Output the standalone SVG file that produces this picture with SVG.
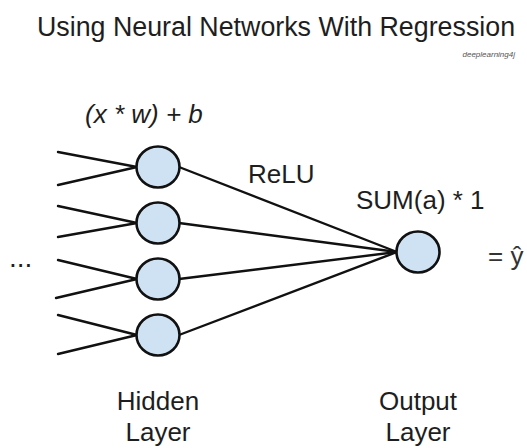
<svg xmlns="http://www.w3.org/2000/svg" width="527" height="448" viewBox="0 0 527 448">
  <style>
    .t { font-family: "Liberation Sans", Arial, sans-serif; fill: #1e1e1e; }
    .big { font-size: 26px; }
    .it { font-style: italic; }
    .node { fill: #cfe2f3; stroke: #111; stroke-width: 2.6; }
    .edge { stroke: #111; stroke-width: 2.4; fill: none; stroke-linecap: round; }
  </style>
  <rect width="527" height="448" fill="#ffffff"/>

  <!-- heading -->
  <text class="t" x="37" y="36" font-size="26.8">Using Neural Networks With Regression</text>
  <text class="t it" x="515" y="57" font-size="8" fill="#555" text-anchor="end" style="fill:#555">deeplearning4j</text>

  <!-- labels -->
  <text class="t big it" x="85" y="123">(x * w) + b</text>
  <text class="t big" x="248" y="183">ReLU</text>
  <text class="t big" x="356" y="209">SUM(a) * 1</text>
  <text class="t" x="9" y="267" font-size="28">...</text>
  <text class="t big" x="488" y="265" style="fill:#333">= ŷ</text>
  <text class="t big" x="158" y="410" text-anchor="middle">Hidden</text>
  <text class="t big" x="158" y="441" text-anchor="middle">Layer</text>
  <text class="t big" x="418" y="410" text-anchor="middle">Output</text>
  <text class="t big" x="418" y="441" text-anchor="middle">Layer</text>

  <!-- connectors -->
  <g id="connectors">
    <!-- inputs into hidden units -->
    <line class="edge" x1="58" y1="152" x2="137" y2="167"/>
    <line class="edge" x1="58" y1="185" x2="137" y2="167"/>
    <line class="edge" x1="58" y1="206" x2="137" y2="223"/>
    <line class="edge" x1="58" y1="237" x2="137" y2="223"/>
    <line class="edge" x1="58" y1="260" x2="137" y2="279"/>
    <line class="edge" x1="56" y1="298" x2="137" y2="279"/>
    <line class="edge" x1="58" y1="315" x2="137" y2="335"/>
    <line class="edge" x1="58" y1="354" x2="137" y2="335"/>
    <!-- hidden units into output -->
    <line class="edge" x1="179" y1="167" x2="397" y2="252"/>
    <line class="edge" x1="179" y1="223" x2="397" y2="252"/>
    <line class="edge" x1="179" y1="279" x2="397" y2="252"/>
    <line class="edge" x1="179" y1="335" x2="397" y2="252"/>
  </g>

  <!-- hidden layer -->
  <g id="h1"><ellipse class="node" cx="158" cy="167" rx="21.5" ry="20.5"/></g>
  <g id="h2"><ellipse class="node" cx="158" cy="223" rx="21.5" ry="20.5"/></g>
  <g id="h3"><ellipse class="node" cx="158" cy="279" rx="21.5" ry="20.5"/></g>
  <g id="h4"><ellipse class="node" cx="158" cy="335" rx="21.5" ry="20.5"/></g>

  <!-- output layer -->
  <g id="out"><ellipse class="node" cx="418" cy="252" rx="21.5" ry="20.5"/></g>
</svg>
